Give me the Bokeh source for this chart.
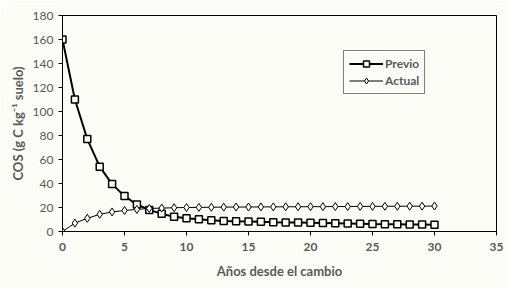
from bokeh.plotting import figure
from bokeh.models import FixedTicker, Legend, LegendItem, Range1d
from bokeh.embed import file_html
from bokeh.resources import INLINE

years = list(range(0, 31))
previo = [160, 110, 77, 54, 39.5, 29.5, 22.5, 18, 14.7, 12.3, 11, 10.2, 9.3, 8.8, 8.5, 8.3,
          8.1, 7.8, 7.6, 7.4, 7.2, 7.0, 6.8, 6.6, 6.4, 6.2, 6.1, 6.0, 5.9, 5.8, 5.6]
actual = [0, 7, 11, 14.3, 16.3, 17.5, 18.4, 19.2, 19.5, 19.8, 20, 20.1, 20.2, 20.3, 20.4, 20.4,
          20.5, 20.5, 20.6, 20.6, 20.7, 20.7, 20.8, 20.8, 20.9, 20.9, 21, 21, 21.1, 21.1, 21.2]
x_ticks = [0, 5, 10, 15, 20, 25, 30, 35]
y_ticks = [0, 20, 40, 60, 80, 100, 120, 140, 160, 180]

bg = "#FDFDF8"
gray = "#595959"
font = "Lato"

p = figure(width=509, height=287, output_backend="svg", toolbar_location=None,
           x_range=Range1d(0, 35), y_range=Range1d(0, 180),
           min_border_left=62, min_border_right=13, min_border_top=15, min_border_bottom=56,
           background_fill_color=bg, border_fill_color=bg)
p.grid.visible = False
p.outline_line_color = "black"
p.outline_line_width = 1

p.xaxis.ticker = FixedTicker(ticks=x_ticks)
p.yaxis.ticker = FixedTicker(ticks=y_ticks)
for ax in (p.xaxis[0], p.yaxis[0]):
    ax.axis_line_color = "black"
    ax.major_tick_line_color = "black"
    ax.major_tick_out = 4
    ax.major_tick_in = 0
    ax.minor_tick_line_color = None
    ax.major_label_text_color = gray
    ax.major_label_text_font = font
    ax.major_label_text_font_size = "12px"
    ax.axis_label_text_color = gray
    ax.axis_label_text_font = font
    ax.axis_label_text_font_style = "bold"
    ax.axis_label_text_font_size = "13px"
p.xaxis.major_label_text_font_style = "bold"
p.xaxis.axis_label = "Años desde el cambio"
p.yaxis.axis_label = "COS (g C kg⁻¹ suelo)"
p.xaxis.axis_label_standoff = 9
p.yaxis.axis_label_standoff = 4
p.xaxis.major_label_standoff = 7

l1 = p.line(years, previo, line_color="black", line_width=2)
m1 = p.scatter(years, previo, marker="square", size=7, fill_color="white",
               line_color="black", line_width=1.5)
l2 = p.line(years, actual, line_color="black", line_width=1)
m2 = p.scatter(years, actual, marker="diamond", size=8, fill_color="white",
               line_color="black", line_width=1)

legend = Legend(items=[LegendItem(label="Previo", renderers=[l1, m1]),
                       LegendItem(label="Actual", renderers=[l2, m2])],
                location=(281, 137),
                border_line_color="black", border_line_width=1.5,
                background_fill_color=bg, background_fill_alpha=1,
                label_text_color=gray, label_text_font=font, label_text_font_style="bold",
                label_text_font_size="12px", glyph_width=34, glyph_height=15,
                label_standoff=2, spacing=2, padding=5, margin=0,
                label_height=15)
p.add_layout(legend, "center")

open("out.html", "w").write(file_html(p, INLINE))
